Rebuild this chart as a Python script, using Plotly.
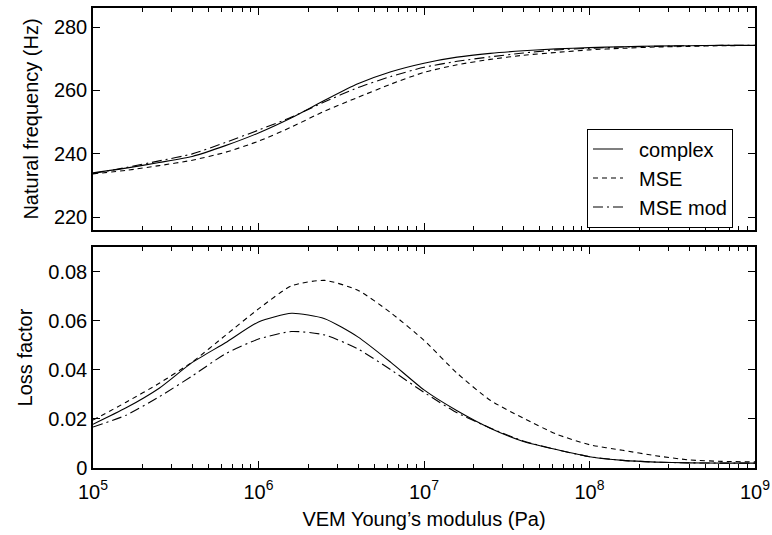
import plotly.graph_objects as go

# log10 of VEM Young's modulus (Pa)
log_E = [5.0, 5.2, 5.4, 5.6, 5.8, 6.0, 6.2, 6.4, 6.6, 6.8, 7.0,
         7.2, 7.4, 7.6, 7.8, 8.0, 8.2, 8.4, 8.6, 8.8, 9.0]
E = [10 ** v for v in log_E]

# Natural frequency (Hz)
freq_complex = [234.0, 235.5, 237.3, 239.2, 242.6, 246.6, 251.4, 256.9, 262.1, 265.9, 268.6,
                270.5, 271.7, 272.5, 273.1, 273.5, 273.8, 274.0, 274.1, 274.2, 274.2]
freq_mse = [233.7, 234.8, 236.3, 238.0, 240.5, 244.0, 248.5, 253.5, 257.8, 262.0, 265.7,
            268.1, 269.8, 271.1, 272.0, 272.8, 273.3, 273.7, 273.9, 274.1, 274.2]
freq_mse_mod = [233.8, 235.7, 237.8, 240.0, 243.6, 247.5, 251.6, 256.4, 260.9, 264.4, 267.3,
                269.2, 270.6, 271.8, 272.8, 273.3, 273.7, 273.9, 274.1, 274.2, 274.2]

# Loss factor
loss_complex = [0.0178, 0.0245, 0.0325, 0.0430, 0.0510, 0.0595, 0.0630, 0.0608, 0.0534, 0.0430, 0.0318,
                0.0233, 0.0162, 0.0108, 0.0075, 0.0046, 0.0031, 0.0024, 0.0021, 0.0020, 0.0020]
loss_mse = [0.0195, 0.0268, 0.0345, 0.0432, 0.0540, 0.0648, 0.0742, 0.0764, 0.0724, 0.0632, 0.0520,
            0.0386, 0.0276, 0.0203, 0.0138, 0.0095, 0.0072, 0.0050, 0.0033, 0.0027, 0.0025]
loss_mse_mod = [0.0167, 0.0215, 0.0290, 0.0375, 0.0465, 0.0525, 0.0556, 0.0542, 0.0485, 0.0400, 0.0308,
                0.0225, 0.0163, 0.0110, 0.0075, 0.0046, 0.0031, 0.0024, 0.0021, 0.0020, 0.0020]

x_tick_vals = [1e5, 1e6, 1e7, 1e8, 1e9]
x_tick_text = ["10<sup>5</sup>", "10<sup>6</sup>", "10<sup>7</sup>", "10<sup>8</sup>", "10<sup>9</sup>"]
freq_ticks = [220, 240, 260, 280]
loss_ticks = [0, 0.02, 0.04, 0.06, 0.08]
loss_tick_text = ["0", "0.02", "0.04", "0.06", "0.08"]

series_names = ["complex", "MSE", "MSE mod"]
dashes = ["solid", "5px,4px", "10px,4px,2px,4px"]

FONT = "Liberation Sans, Arial, Helvetica, sans-serif"
NB = "\u00a0\u00a0"
fig = go.Figure()

freq_sets = [freq_complex, freq_mse, freq_mse_mod]
loss_sets = [loss_complex, loss_mse, loss_mse_mod]
for name, dash, fy, ly in zip(series_names, dashes, freq_sets, loss_sets):
    fig.add_trace(go.Scatter(x=E, y=fy, mode="lines", name=NB + name,
                             line=dict(color="black", width=1.1, dash=dash,
                                       shape="spline", smoothing=0.6),
                             xaxis="x2", yaxis="y2", showlegend=True))
    fig.add_trace(go.Scatter(x=E, y=ly, mode="lines", name=NB + name,
                             line=dict(color="black", width=1.1, dash=dash,
                                       shape="spline", smoothing=0.6),
                             xaxis="x", yaxis="y", showlegend=False))

axis_common = dict(showline=True, linecolor="black", linewidth=1.5, mirror="allticks",
                   ticks="inside", ticklen=7, tickwidth=1, tickcolor="black",
                   showgrid=False, zeroline=False, automargin=False,
                   tickfont=dict(family=FONT, size=20, color="black"))

xcommon = dict(axis_common, type="log", range=[4.99999, 9.00001],
               tickvals=x_tick_vals, ticktext=x_tick_text,
               minor=dict(ticks="inside", ticklen=4, tickwidth=1, tickcolor="black",
                          dtick="D1", showgrid=False))

fig.update_layout(
    width=772, height=535,
    margin=dict(l=93, r=17, t=8, b=67, autoexpand=False),
    paper_bgcolor="white", plot_bgcolor="white",
    font=dict(family=FONT, size=20, color="black"),
    xaxis=dict(xcommon, anchor="y", domain=[0, 1], ticklabelstandoff=5,
               title=dict(text="VEM Young\u2019s modulus (Pa)", font=dict(size=20), standoff=10)),
    xaxis2=dict(xcommon, anchor="y2", matches="x", showticklabels=False),
    yaxis=dict(axis_common, domain=[0, 0.4804], range=[0, 0.09],
               tickvals=loss_ticks, ticktext=loss_tick_text,
               title=dict(text="Loss factor", font=dict(size=20), standoff=10)),
    yaxis2=dict(axis_common, domain=[0.5174, 1], range=[216, 286],
                tickvals=freq_ticks,
                title=dict(text="Natural frequency (Hz)", font=dict(size=20), standoff=10)),
    legend=dict(x=0.8565, y=0.6304, xanchor="center", yanchor="middle",
                bgcolor="white", bordercolor="black", borderwidth=1,
                font=dict(family=FONT, size=20, color="black"),
                tracegroupgap=0),
    showlegend=True,
)

fig.write_html("out.html", config={"displayModeBar": False},
               post_script="document.body.style.margin='0px';")
